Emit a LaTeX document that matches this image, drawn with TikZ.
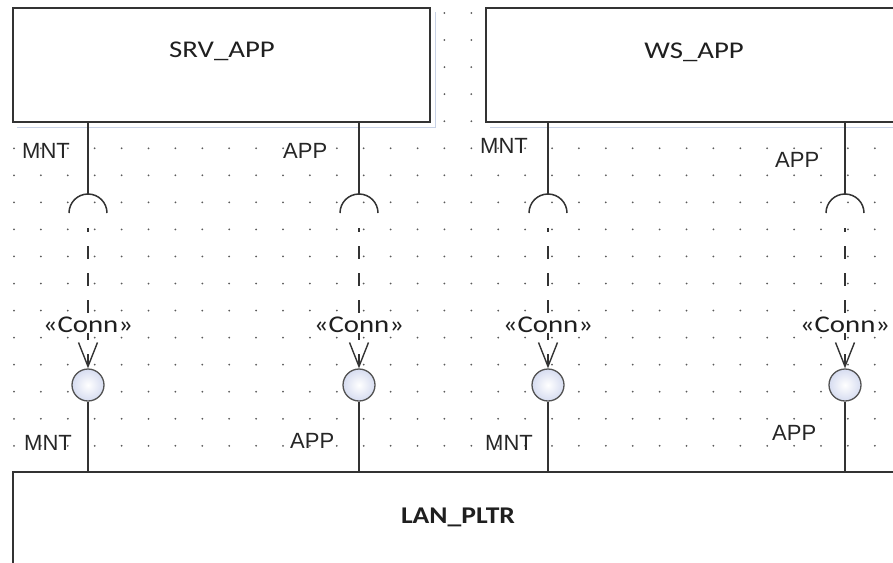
\documentclass[tikz,border=0pt]{standalone}
\usepackage{fontspec}
\newfontfamily\carl{Carlito}
\newfontfamily\arl{Liberation Sans}
\usetikzlibrary{arrows.meta}
\definecolor{ln}{HTML}{333333}
\definecolor{dotc}{HTML}{5A5A5A}
\definecolor{shad}{HTML}{C8D2E6}
\definecolor{ballout}{HTML}{D6DCF0}
\tikzset{
 box/.style={draw=ln, line width=1.4pt, fill=white, rectangle, inner sep=0pt},
 title/.style={font=\carl\fontsize{24}{28}\selectfont, text=black!88, inner sep=0pt, anchor=base},
 port/.style={font=\arl\fontsize{22}{26}\selectfont, text=black!85, inner sep=0pt, anchor=base west},
 conn/.style={font=\carl\fontsize{24}{28}\selectfont, text=black!88, fill=white, inner sep=1pt, anchor=base},
 wire/.style={draw=ln, line width=1.3pt},
 sock/.style={draw=ln, line width=1.5pt},
 ball/.style={circle, draw=ln!85, line width=1.3pt, minimum size=32pt, inner sep=0pt, inner color=white, outer color=ballout},
 dep/.style={draw=ln, line width=1.4pt, dash pattern=on 13pt off 14pt, dash phase=9pt, -{Straight Barb[length=24pt,width=19pt]}}
}
\begin{document}
\begin{tikzpicture}[x=1pt,y=-1pt]
\useasboundingbox (0,0) rectangle (893,562);
% dot grid
\foreach \i in {0,...,33}{\foreach \j in {0,...,17}{\fill[dotc] (14+26.9*\i,13+27.05*\j) circle (1pt);}}
% faint shadows
\draw[shad, line width=1pt] (17,127) -- (435,127) -- (435,12);
\draw[shad, line width=1pt] (490,127) -- (893,127);
% boxes
\node[box, minimum width=417pt, minimum height=114pt] (srv) at (221.5,65) {};
\node[box, minimum width=416pt, minimum height=114pt] (ws) at (694,65) {};
\node[box, minimum width=889pt, minimum height=103pt] (lan) at (457.5,523.5) {};
\node[title] (srvt) at (222,57) {\scalebox{1.2}[1]{SRV\_APP}};
\node[title] (wst) at (694,58) {\scalebox{1.2}[1]{WS\_APP}};
\node[title, font=\carl\bfseries\fontsize{24}{28}\selectfont] (lant) at (458,523) {\scalebox{1.15}[1]{LAN\_PLTR}};
% ports
\foreach \x/\i/\top in {88/1/srv, 359/2/srv, 548/3/ws, 845/4/ws}{
  \coordinate (st\i) at (\x,194);
  \coordinate (sk\i) at (\x,213);
  \coordinate (d\i) at (\x,228);
  \node[ball] (b\i) at (\x,385) {};
  \draw[wire] (\top.south -| st\i) -- (st\i);
  \draw[sock] ([xshift=-19pt]sk\i) arc[start angle=180, end angle=0, radius=19pt];
  \draw[dep] (d\i) -- (b\i.north);
  \node[conn] (c\i) at (\x,332) {\scalebox{1.2}[1]{«Conn»}};
  \draw[wire] (b\i.south) -- (b\i.south |- lan.north);
}
% port labels
\node[port] (pt1) at (22,158) {MNT};
\node[port] (pt2) at (283,158) {APP};
\node[port] (pt3) at (480,153) {MNT};
\node[port] (pt4) at (775,167) {APP};
\node[port] (pb1) at (24,450) {MNT};
\node[port] (pb2) at (290,448) {APP};
\node[port] (pb3) at (485,450) {MNT};
\node[port] (pb4) at (772,440) {APP};
\end{tikzpicture}
\end{document}
